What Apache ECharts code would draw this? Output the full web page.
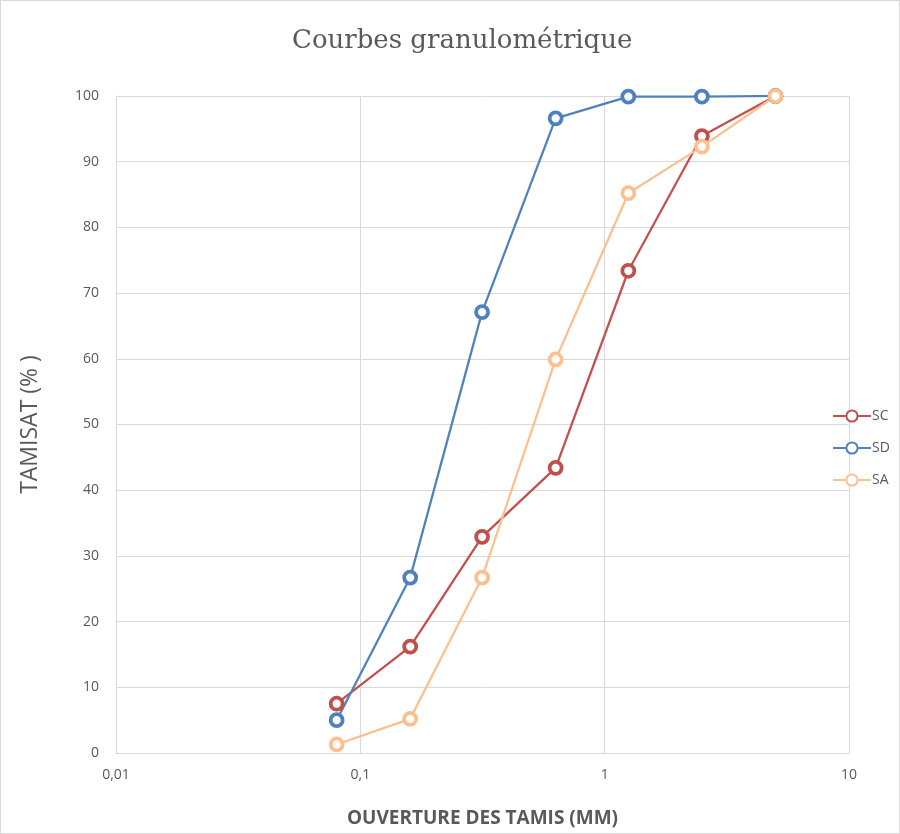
<!DOCTYPE html>
<html><head><meta charset="utf-8">
<script src="https://cdn.jsdelivr.net/npm/echarts@6/dist/echarts.min.js"></script>
<style>html,body{margin:0;padding:0;background:#fff}#c{width:900px;height:834px;box-sizing:border-box;border:1px solid #d9d9d9}</style>
</head><body><div id="c"></div>
<script>
const sieves = [0.08, 0.16, 0.315, 0.63, 1.25, 2.5, 5];
const SC = [7.5, 16.2, 32.9, 43.4, 73.4, 93.9, 100];
const SD = [5.0, 26.7, 67.1, 96.6, 99.9, 99.9, 100];
const SA = [1.3, 5.2, 26.7, 59.9, 85.2, 92.3, 100];
const seriesNames = ['SC', 'SD', 'SA'];
const seriesColors = ['#C0504D', '#4F81BD', '#FAC090'];
const seriesData = [SC, SD, SA];

const chart = echarts.init(document.getElementById('c'));
chart.setOption({
  animation: false,
  title: {text: 'Courbes granulométrique', left: 286, top: 22,
    textStyle: {fontFamily: 'DejaVu Serif', fontWeight: 'normal', fontSize: 26, color: '#595959'}},
  grid: {left: 115, right: 50, top: 95, bottom: 78},
  legend: {orient: 'vertical', left: 826, top: 403, itemGap: 18, itemWidth: 38, itemHeight: 14,
    data: seriesNames,
    textStyle: {fontFamily: 'Open Sans', fontSize: 14, color: '#595959', padding: [0,0,0,-4]}},
  xAxis: {type: 'log', logBase: 10, min: 0.01, max: 10,
    name: 'OUVERTURE DES TAMIS (MM)', nameLocation: 'middle', nameGap: 56,
    nameTextStyle: {fontFamily: 'Open Sans', fontWeight: 'bold', fontSize: 19, color: '#595959', letterSpacing: -1},
    axisLine: {show: true, lineStyle: {color: '#d9d9d9'}},
    axisTick: {show: false},
    splitLine: {show: true, lineStyle: {color: '#d9d9d9'}},
    axisLabel: {fontFamily: 'Open Sans', fontSize: 14, color: '#595959', margin: 15,
      formatter: v => String(v).replace('.', ',')}},
  yAxis: {type: 'value', min: 0, max: 100, interval: 10,
    name: 'TAMISAT (% )', nameLocation: 'middle', nameGap: 74,
    nameTextStyle: {fontFamily: 'Open Sans', fontSize: 23, color: '#595959'},
    axisLine: {show: true, lineStyle: {color: '#d9d9d9'}},
    axisTick: {show: false},
    splitLine: {show: true, lineStyle: {color: '#d9d9d9'}},
    axisLabel: {fontFamily: 'Open Sans', fontSize: 14, color: '#595959', margin: 17}},
  series: seriesNames.map((n, i) => ({
    name: n, type: 'line',
    data: sieves.map((s, j) => [s, seriesData[i][j]]),
    symbol: 'circle', symbolSize: 12,
    color: seriesColors[i],
    lineStyle: {width: 2.25, color: seriesColors[i]},
    itemStyle: {color: '#fff', borderColor: seriesColors[i], borderWidth: 3.75}
  }))
});
</script></body></html>
